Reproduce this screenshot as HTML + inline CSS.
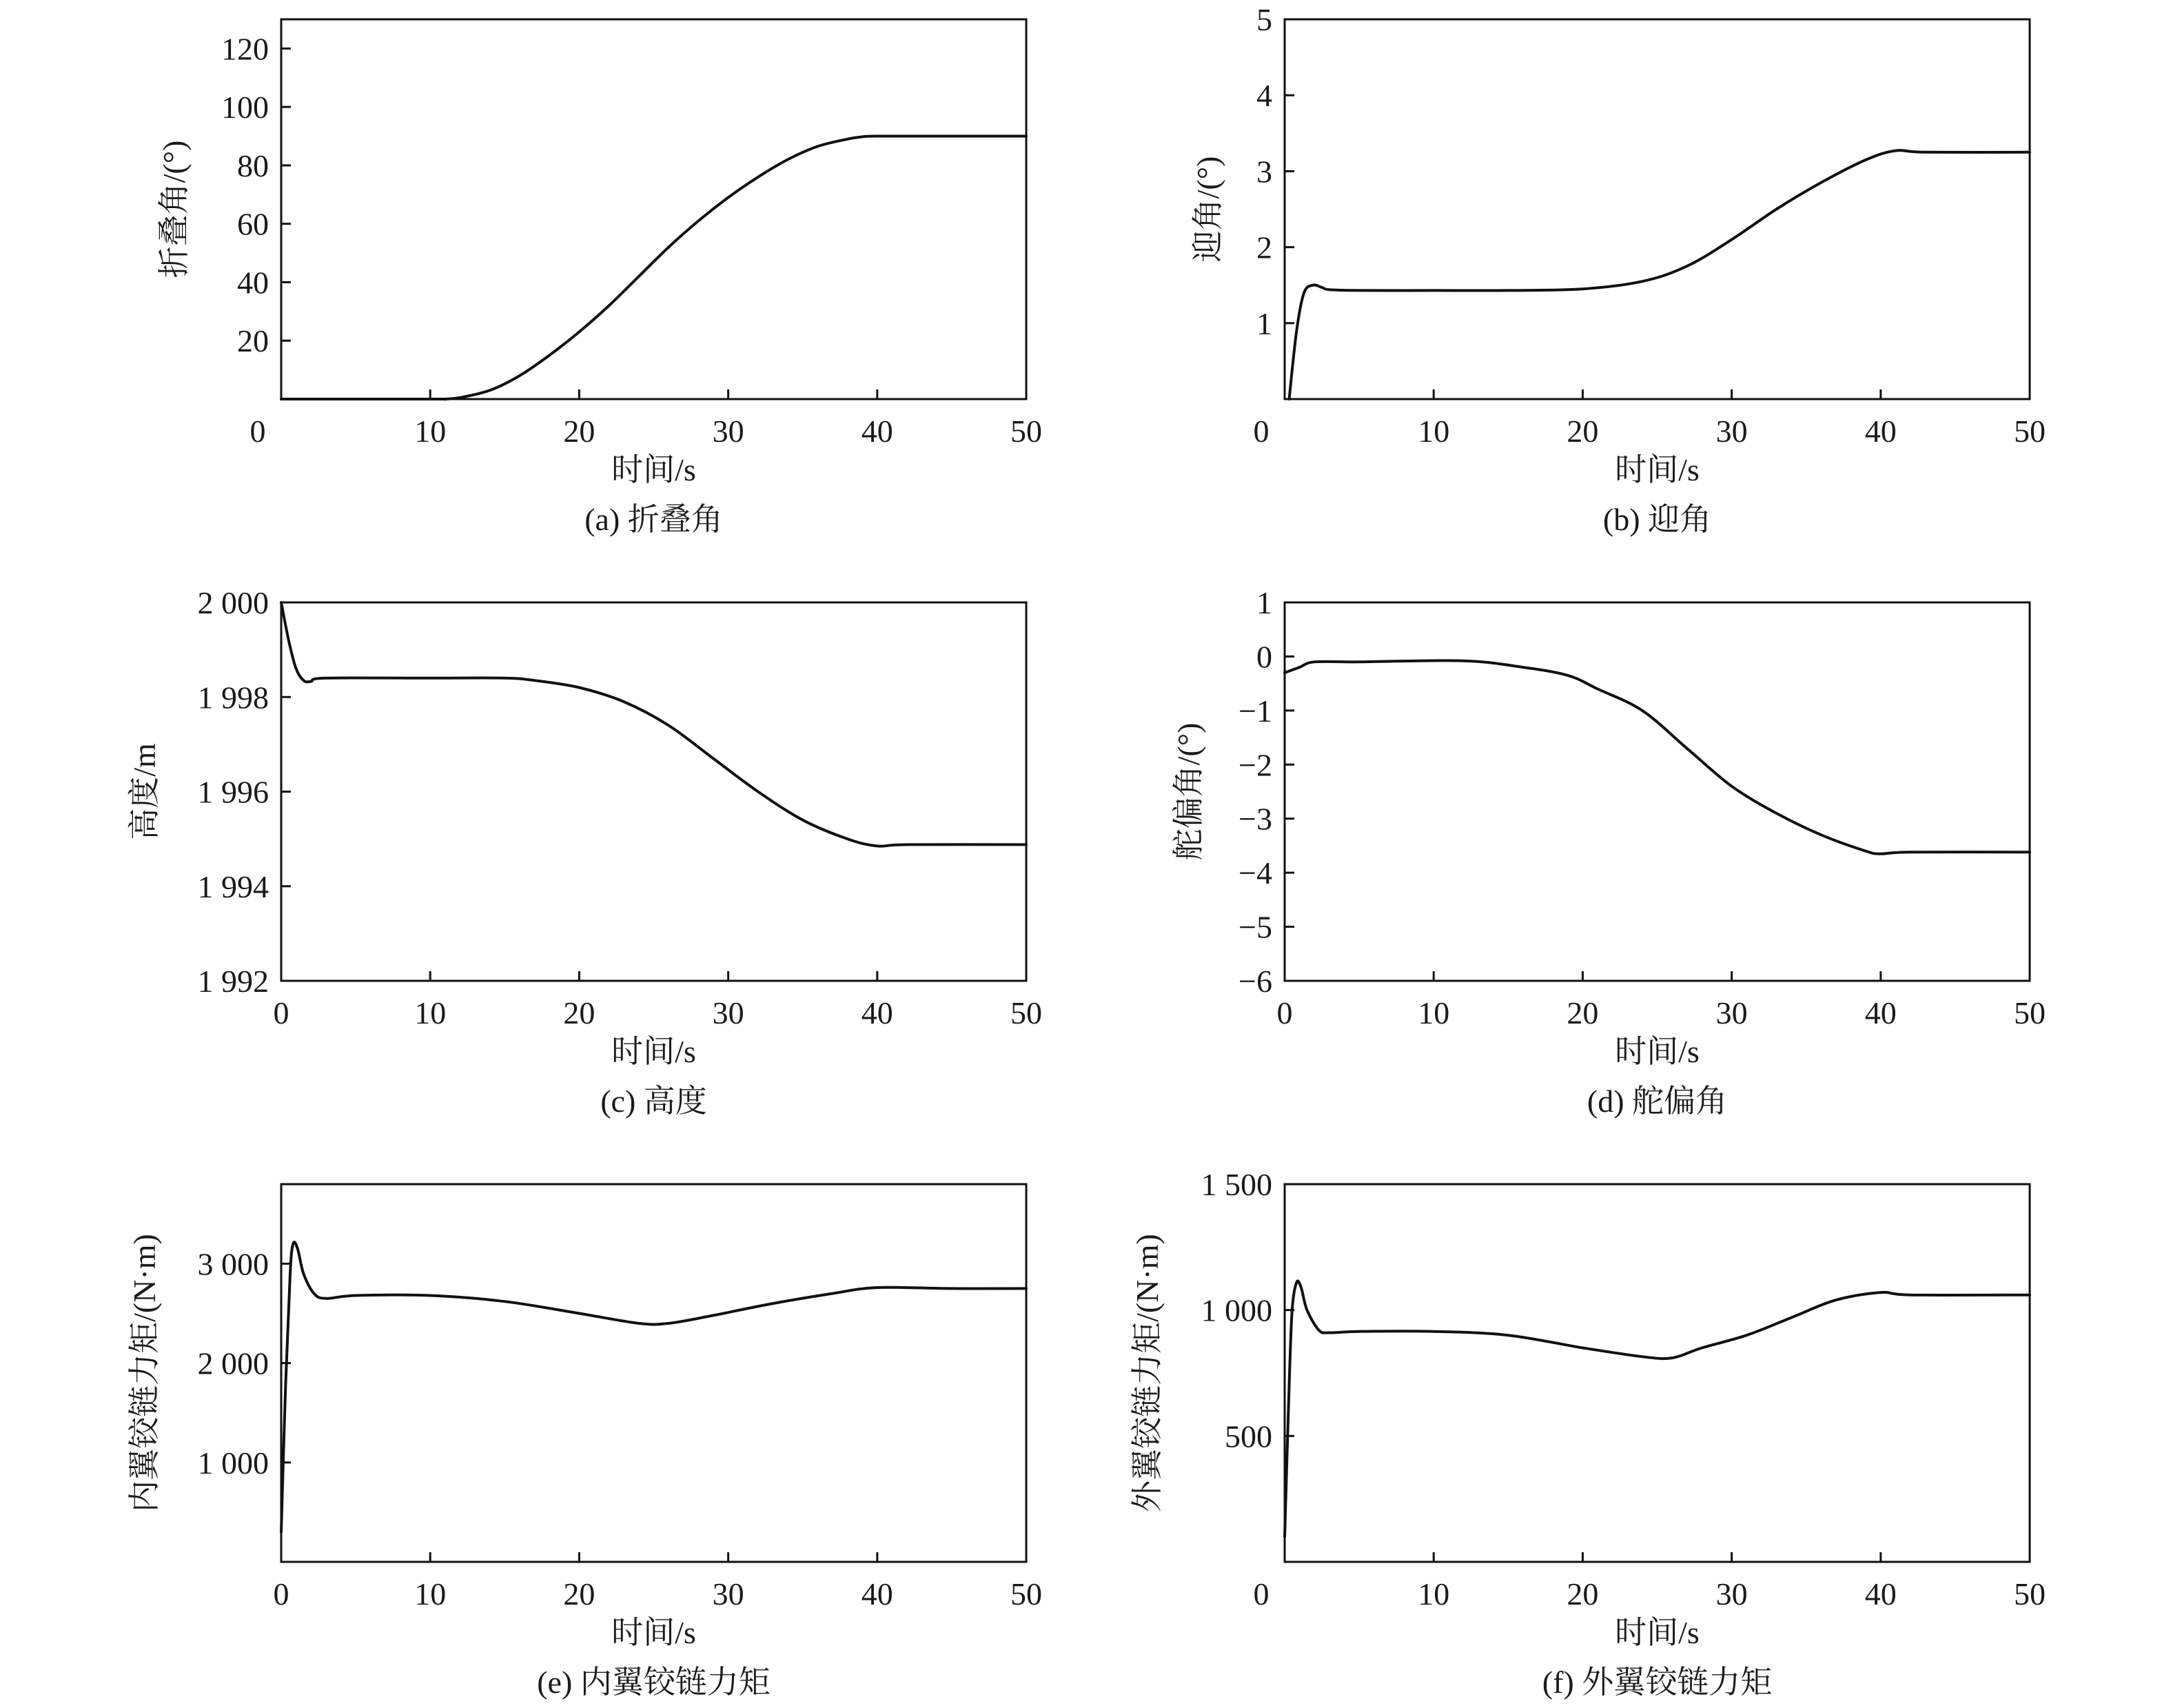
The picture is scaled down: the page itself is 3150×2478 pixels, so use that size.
<!DOCTYPE html>
<html><head><meta charset="utf-8">
<style>
html,body{margin:0;padding:0;background:#fff;}
svg{display:block;}
text{font-family:"Liberation Serif","Noto Serif CJK SC",serif;fill:#1a1a1a;}
</style></head>
<body>
<svg id="fig" width="3150" height="2478" viewBox="0 0 3150 2478" xmlns="http://www.w3.org/2000/svg"></svg>
<script>
const timeTicks = [0,10,20,30,40,50];
const tA = [0,10,11,12,14,16,18,20,22,24,26,28,30,32,34,36,38,39,40,45,50];
const vA = [0,0,0,0.5,3,8,15,23,32,42,52,61,69,76,82,86.5,89,89.8,90,90,90];
const tB = [0.3,0.8,1.3,1.9,2.5,3,5,10,15,20,24,27,30,33,36,39,41,43,50];
const vB = [0,0.9,1.4,1.5,1.47,1.44,1.43,1.43,1.43,1.45,1.55,1.75,2.1,2.5,2.85,3.15,3.27,3.25,3.25];
const tC = [0,0.5,1,1.5,2,3,10,15,17,20,23,26,29,32,35,38,40,42,50];
const vC = [2000,1999.2,1998.6,1998.35,1998.33,1998.4,1998.4,1998.4,1998.35,1998.2,1997.9,1997.4,1996.7,1996,1995.4,1995,1994.85,1994.88,1994.88];
const tD = [0,1,2,5,12,16,19,21,24,27,30,33,36,39,40,42,50];
const vD = [-0.3,-0.2,-0.1,-0.1,-0.08,-0.2,-0.35,-0.6,-1.0,-1.7,-2.4,-2.9,-3.3,-3.6,-3.65,-3.62,-3.62];
const tE = [0,0.3,0.6,0.8,1.1,1.5,2.2,3,5,10,15,20,24,26,29,33,37,40,45,50];
const vE = [300,1800,2900,3200,3150,2900,2700,2650,2680,2680,2620,2500,2400,2400,2480,2600,2700,2760,2750,2750];
const tF = [0,0.3,0.5,0.8,1.1,1.5,2.3,3,5,10,15,20,24,26,28,31,34,37,40,42,50];
const vF = [100,700,1000,1110,1090,1000,920,910,915,915,900,850,815,810,850,900,970,1040,1070,1060,1060];
const yTicksA = [20,40,60,80,100,120];
const yLabA = ["20","40","60","80","100","120"];
const yTicksB = [1,2,3,4,5];
const yLabB = ["1","2","3","4","5"];
const yTicksC = [1992,1994,1996,1998,2000];
const yLabC = ["1 992","1 994","1 996","1 998","2 000"];
const yTicksD = [-6,-5,-4,-3,-2,-1,0,1];
const yLabD = ["\u22126","\u22125","\u22124","\u22123","\u22122","\u22121","0","1"];
const yTicksE = [1000,2000,3000];
const yLabE = ["1 000","2 000","3 000"];
const yTicksF = [500,1000,1500];
const yLabF = ["500","1 000","1 500"];

const NS="http://www.w3.org/2000/svg";
const svg=document.getElementById('fig');
function mk(tag,attrs,parent){const e=document.createElementNS(NS,tag);for(const k in attrs)e.setAttribute(k,attrs[k]);(parent||svg).appendChild(e);return e;}
function smoothPath(pts){
  let d='M'+pts[0][0].toFixed(1)+','+pts[0][1].toFixed(1);
  for(let i=0;i<pts.length-1;i++){
    const p0=pts[Math.max(0,i-1)],p1=pts[i],p2=pts[i+1],p3=pts[Math.min(pts.length-1,i+2)];
    const c1x=p1[0]+(p2[0]-p0[0])/6,c1y=p1[1]+(p2[1]-p0[1])/6;
    const c2x=p2[0]-(p3[0]-p1[0])/6,c2y=p2[1]-(p3[1]-p1[1])/6;
    d+='C'+c1x.toFixed(1)+','+c1y.toFixed(1)+' '+c2x.toFixed(1)+','+c2y.toFixed(1)+' '+p2[0].toFixed(1)+','+p2[1].toFixed(1);
  }
  return d;
}

const panels=[
 {id:'a',L:408,R:1489,T:28,B:579,ymin:0,ymax:130,t:tA,v:vA,yt:yTicksA,yl:yLabA,ylab:'折叠角/(°)',ylx:268,x0lab:374,cap:'(a) 折叠角'},
 {id:'b',L:1864,R:2945,T:28,B:579,ymin:0,ymax:5,t:tB,v:vB,yt:yTicksB,yl:yLabB,ylab:'迎角/(°)',ylx:1768,x0lab:1830,cap:'(b) 迎角'},
 {id:'c',L:408,R:1489,T:874,B:1423,ymin:1992,ymax:2000,t:tC,v:vC,yt:yTicksC,yl:yLabC,ylab:'高度/m',ylx:225,x0lab:408,cap:'(c) 高度'},
 {id:'d',L:1864,R:2945,T:874,B:1423,ymin:-6,ymax:1,t:tD,v:vD,yt:yTicksD,yl:yLabD,ylab:'舵偏角/(°)',ylx:1740,x0lab:1864,cap:'(d) 舵偏角'},
 {id:'e',L:408,R:1489,T:1718,B:2266,ymin:0,ymax:3800,t:tE,v:vE,yt:yTicksE,yl:yLabE,ylab:'内翼铰链力矩/(N·m)',ylx:225,x0lab:408,cap:'(e) 内翼铰链力矩'},
 {id:'f',L:1864,R:2945,T:1718,B:2266,ymin:0,ymax:1500,t:tF,v:vF,yt:yTicksF,yl:yLabF,ylab:'外翼铰链力矩/(N·m)',ylx:1680,x0lab:1830,cap:'(f) 外翼铰链力矩'}
];
const FS=46;
panels.forEach(p=>{
  const g=mk('g',{});
  
  
  const xs=t=>p.L+(t-0)/(50-0)*(p.R-p.L);
  const ys=v=>p.B-(v-p.ymin)/(p.ymax-p.ymin)*(p.B-p.T);
  const pts=p.t.map((t,i)=>[xs(t),ys(p.v[i])]);
  const ln=mk('path',{d:smoothPath(pts),fill:'none',stroke:'#111','stroke-width':4,'stroke-linejoin':'round','stroke-linecap':'round'},g);
  
  
  const fr=mk('rect',{x:p.L,y:p.T,width:p.R-p.L,height:p.B-p.T,fill:'none',stroke:'#111','stroke-width':3},g);
  
  
  timeTicks.forEach((t,i)=>{
    const x=xs(t);
    if(i>0&&i<timeTicks.length-1) mk('line',{x1:x,y1:p.B,x2:x,y2:p.B-14,stroke:'#111','stroke-width':3},g);
    const tx=mk('text',{x:i===0?p.x0lab:x,y:p.B+62,'font-size':FS,'text-anchor':'middle'},g);
    tx.textContent=String(t);
    
    
  });
  p.yt.forEach((v,i)=>{
    const y=ys(v);
    if(v>p.ymin&&v<p.ymax) mk('line',{x1:p.L,y1:y,x2:p.L+14,y2:y,stroke:'#111','stroke-width':3},g);
    const tx=mk('text',{x:p.L-18,y:y+16,'font-size':FS,'text-anchor':'end'},g);
    tx.textContent=p.yl[i];
    
    
  });
  const cy=(p.T+p.B)/2;
  const yl=mk('text',{x:p.ylx,y:cy,'font-size':FS,'text-anchor':'middle',transform:'rotate(-90 '+p.ylx+' '+cy+')'},g);
  yl.textContent=p.ylab;
  
  
  const cx=(p.L+p.R)/2;
  const xl=mk('text',{x:cx,y:p.B+118,'font-size':FS,'text-anchor':'middle'},g);
  xl.textContent='时间/s';
  
  
  const cp=mk('text',{x:cx,y:p.B+190,'font-size':FS,'text-anchor':'middle'},g);
  cp.textContent=p.cap;
  
  
});
</script>
</body></html>
